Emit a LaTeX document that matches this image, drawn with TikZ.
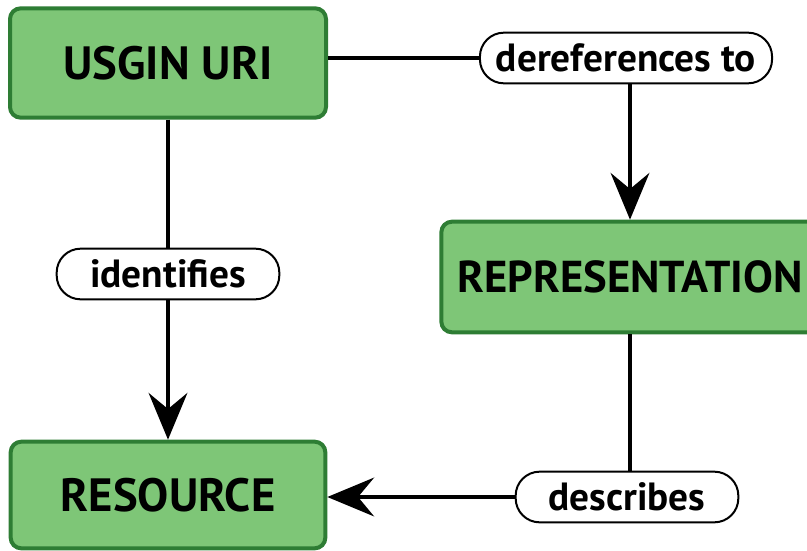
\documentclass[tikz,border=0pt]{standalone}
\usepackage{fontspec}
\setmainfont{PT Sans}
\usepackage{tikz}
\usetikzlibrary{positioning, arrows.meta}
\definecolor{conceptfill}{RGB}{126,198,119}
\definecolor{conceptline}{RGB}{46,125,52}
\begin{document}
\begin{tikzpicture}[x=0.75pt, y=-0.75pt,
    concept/.style={draw=conceptline, line width=3pt, fill=conceptfill, rectangle, rounded corners=8pt, font=\fontsize{35}{40}\selectfont\bfseries},
    linkword/.style={draw, line width=1.5pt, fill=white, rectangle, rounded corners=18pt, minimum width=167pt, minimum height=38pt, inner xsep=12pt, font=\fontsize{29.5}{34}\selectfont\bfseries},
    link/.style={line width=3pt},
    linkto/.style={line width=3pt, -{Stealth[length=35pt, width=29pt, inset=12pt]}}]
    \useasboundingbox (0,0) rectangle (807,550);
    \node[concept, minimum width=237pt, minimum height=82pt] (uri) at (168,63) {USGIN URI};
    \node[concept, minimum width=283pt, minimum height=83pt, font=\fontsize{33.5}{40}\selectfont\bfseries] (repr) at (630,277) {REPRESENTATION};
    \node[concept, minimum width=236pt, minimum height=80pt] (res) at (168,495) {RESOURCE};
    \node[linkword] (deref) at (626,58) {dereferences to};
    \node[linkword] (ident) at (168,274) {identifies};
    \node[linkword] (descr) at (627,497) {describes};
    \draw[link] (uri.east |- deref.west) -- (deref.west);
    \draw[linkto] (deref.south -| repr.north) -- (repr.north);
    \draw[link] (uri.south) -- (ident.north);
    \draw[linkto] (ident.south) -- (res.north);
    \draw[link] (repr.south) -- (repr.south |- descr.north);
    \draw[linkto] (descr.west) -- (res.east |- descr.west);
\end{tikzpicture}
\end{document}
